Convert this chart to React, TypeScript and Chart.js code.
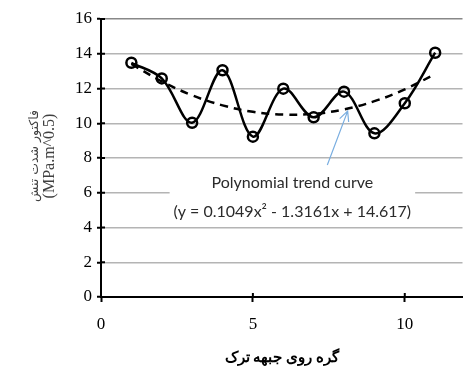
import React, { useEffect, useRef } from 'react';
import { Chart, registerables } from 'chart.js';
Chart.register(...registerables);

const nodes = [1, 2, 3, 4, 5, 6, 7, 8, 9, 10, 11];
const kValues = [13.48, 12.58, 10.03, 13.05, 9.23, 11.99, 10.34, 11.82, 9.42, 11.15, 14.06];
const trendValues = [13.41, 12.41, 11.61, 11.03, 10.66, 10.5, 10.54, 10.8, 11.27, 11.95, 12.83];
const xTickValues = [0, 5, 10];
const yTitleFa = 'فاکتور شدت تنش';
const yTitleUnit = '(MPa.m^0.5)';
const xTitle = 'گره روی جبهه ترک';
const noteLines = ['Polynomial trend curve', '(y = 0.1049x² - 1.3161x + 14.617)'];
const noteAnchor = { x: 6.3, y1: 6.56, y2: 4.9 };
const arrowFrom = { x: 7.45, y: 7.6 };
const arrowTo = { x: 8.12, y: 10.7 };

const SERIF = "'Liberation Serif', 'Times New Roman', serif";

const notePlugin = {
  id: 'note',
  beforeDatasetsDraw(chart: any) {
    const { ctx, scales } = chart;
    const xs = scales.x, ys = scales.y;
    ctx.save();
    ctx.font = "16px 'Lato'";
    const cx = xs.getPixelForValue(noteAnchor.x);
    const y1 = ys.getPixelForValue(noteAnchor.y1);
    const y2 = ys.getPixelForValue(noteAnchor.y2);
    const w = Math.max(...noteLines.map((l) => ctx.measureText(l).width)) + 8;
    ctx.fillStyle = '#fff';
    ctx.fillRect(cx - w / 2, y1 - 13, w, y2 - y1 + 26);
    ctx.fillStyle = '#2b2b2b';
    ctx.textAlign = 'center';
    ctx.textBaseline = 'middle';
    ctx.fillText(noteLines[0], cx, y1);
    ctx.fillText(noteLines[1], cx, y2);
    ctx.restore();
  },
  afterDatasetsDraw(chart: any) {
    const { ctx, scales } = chart;
    const xs = scales.x, ys = scales.y;
    const x0 = xs.getPixelForValue(arrowFrom.x), y0 = ys.getPixelForValue(arrowFrom.y);
    const x1 = xs.getPixelForValue(arrowTo.x), y1 = ys.getPixelForValue(arrowTo.y);
    const ang = Math.atan2(y1 - y0, x1 - x0);
    const h = 11;
    ctx.save();
    ctx.strokeStyle = '#7aaee0';
    ctx.lineWidth = 1.2;
    ctx.beginPath();
    ctx.moveTo(x0, y0);
    ctx.lineTo(x1, y1);
    ctx.moveTo(x1 - h * Math.cos(ang - 0.45), y1 - h * Math.sin(ang - 0.45));
    ctx.lineTo(x1, y1);
    ctx.lineTo(x1 - h * Math.cos(ang + 0.45), y1 - h * Math.sin(ang + 0.45));
    ctx.stroke();
    ctx.restore();
  },
  afterDraw(chart: any) {
    const { ctx, scales, chartArea } = chart;
    ctx.save();
    ctx.strokeStyle = '#000';
    ctx.lineWidth = 2;
    ctx.beginPath();
    scales.y.ticks.forEach((t: any) => {
      const p = scales.y.getPixelForValue(t.value);
      ctx.moveTo(chartArea.left, p);
      ctx.lineTo(chartArea.left + 4, p);
    });
    scales.x.ticks.forEach((t: any) => {
      const p = scales.x.getPixelForValue(t.value);
      ctx.moveTo(p, chartArea.bottom);
      ctx.lineTo(p, chartArea.bottom - 4);
    });
    ctx.stroke();
    const cy = (chartArea.top + chartArea.bottom) / 2 - 2;
    ctx.fillStyle = '#404040';
    ctx.textAlign = 'center';
    ctx.textBaseline = 'middle';
    ctx.translate(0, cy);
    ctx.rotate(-Math.PI / 2);
    ctx.font = "12.5px 'DejaVu Sans'";
    ctx.fillText(yTitleFa, 0, 35);
    ctx.font = `16px ${SERIF}`;
    ctx.fillText(yTitleUnit, 0, 50);
    ctx.restore();
  },
};

export default function App() {
  const ref = useRef<HTMLCanvasElement>(null);
  useEffect(() => {
    const chart = new Chart(ref.current!, {
      type: 'line',
      data: {
        datasets: [
          {
            label: 'K',
            data: nodes.map((x, i) => ({ x, y: kValues[i] })),
            borderColor: '#000',
            borderWidth: 2.5,
            tension: 0.35,
            pointRadius: 5,
            pointBorderWidth: 2.5,
            pointBorderColor: '#000',
            pointBackgroundColor: 'rgba(0,0,0,0)',
            order: 1,
          },
          {
            label: 'trend',
            data: nodes.map((x, i) => ({ x, y: trendValues[i] })),
            borderColor: '#000',
            borderWidth: 2.5,
            borderDash: [8, 6],
            tension: 0.4,
            pointRadius: 0,
            order: 2,
          },
        ],
      },
      options: {
        animation: false,
        responsive: false,
        layout: { padding: { top: 19, right: 0, left: 0, bottom: 0 } },
        plugins: { legend: { display: false }, tooltip: { enabled: false } },
        scales: {
          x: {
            type: 'linear',
            min: 0,
            max: 11.9,
            afterBuildTicks: (s: any) => {
              s.ticks = xTickValues.map((v) => ({ value: v }));
            },
            afterFit: (s: any) => {
              s.height = 70;
            },
            ticks: { color: '#000', padding: 12, maxRotation: 0, autoSkip: false, font: { family: SERIF, size: 17 } },
            grid: { drawOnChartArea: false, drawTicks: true, tickLength: 5, tickColor: '#000', tickWidth: 2 },
            border: { color: '#000', width: 2 },
            title: {
              display: true,
              text: xTitle,
              color: '#000',
              font: { family: SERIF, size: 15, weight: 'bold' },
              padding: { top: 0, bottom: 0 },
            },
          },
          y: {
            min: 0,
            max: 16,
            afterFit: (s: any) => {
              s.width = 101;
            },
            ticks: { stepSize: 2, color: '#000', padding: 5, font: { family: SERIF, size: 17 } },
            grid: {
              color: (c: any) => (c.tick && c.tick.value === 16 ? '#888' : '#b4b4b4'),
              lineWidth: 1.5,
              drawTicks: true,
              tickLength: 4,
              tickColor: '#000',
              tickWidth: 2,
            },
            border: { color: '#000', width: 2 },
          },
        },
      },
      plugins: [notePlugin],
    });
    return () => chart.destroy();
  }, []);
  return (
    <div style={{ position: 'absolute', left: 0, top: 0, width: 470, height: 367 }}>
      <canvas ref={ref} width={470} height={367} />
    </div>
  );
}
